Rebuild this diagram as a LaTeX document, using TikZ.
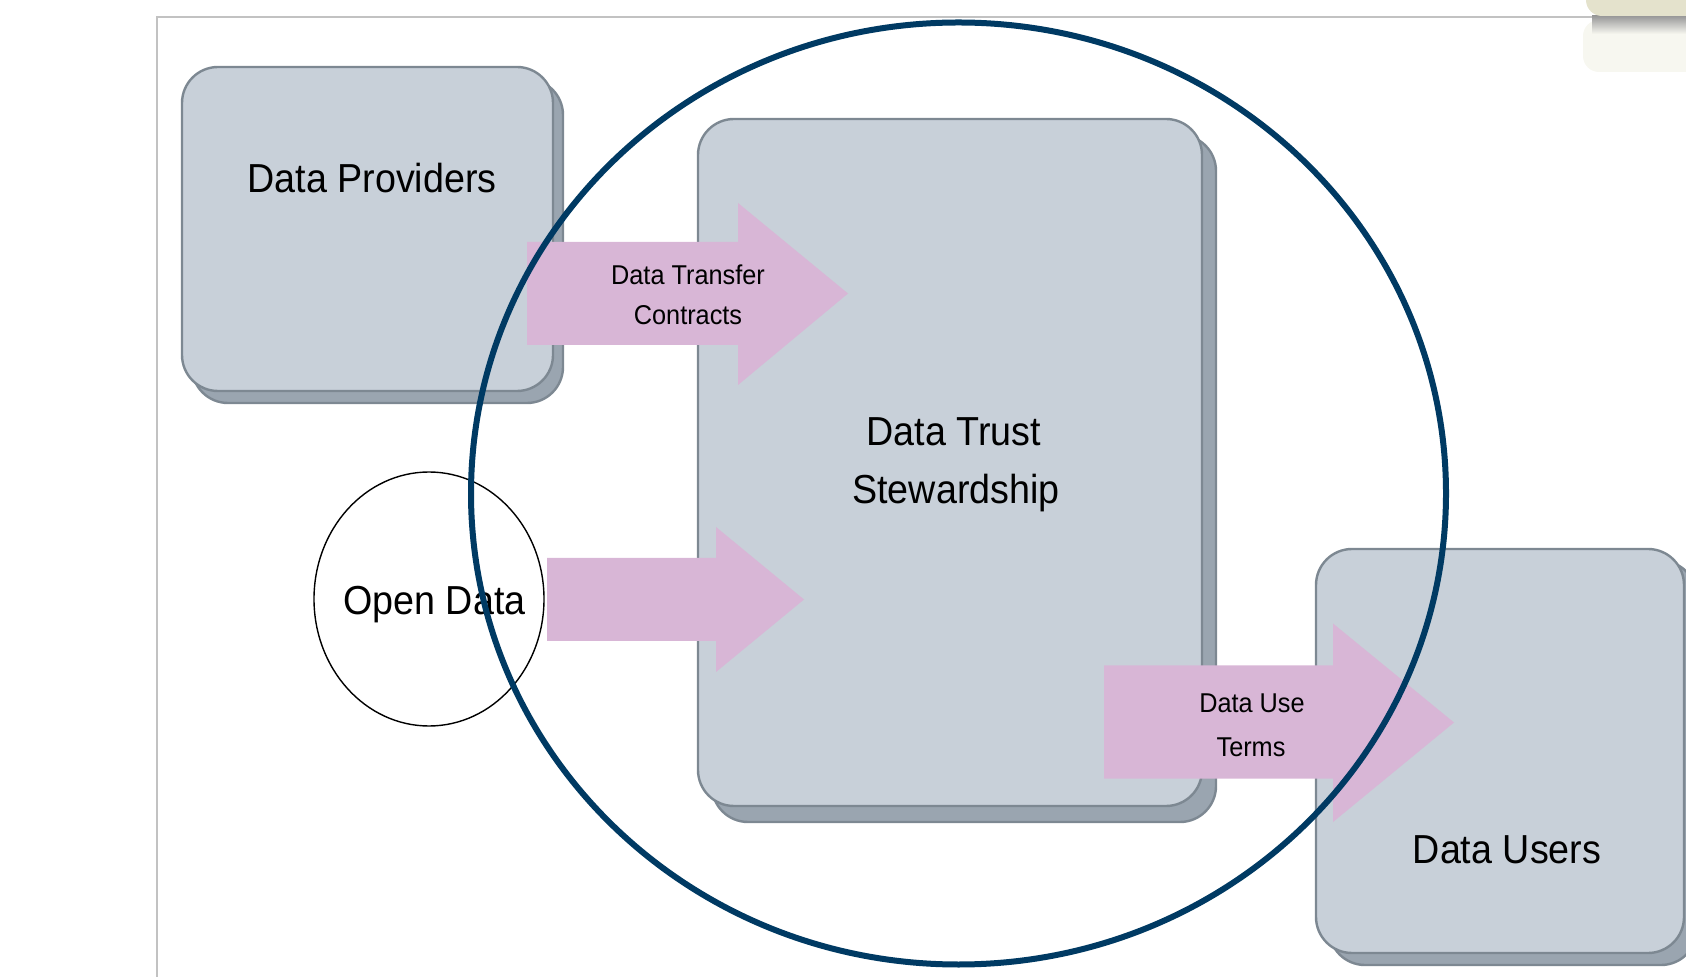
\documentclass[tikz,border=0pt]{standalone}
\usepackage{fontspec}
\setmainfont{Liberation Sans}[FakeStretch=0.93]
\usetikzlibrary{shapes.geometric,shadows}
\definecolor{boxfill}{HTML}{C8D0D9}
\definecolor{boxshadow}{HTML}{9AA5B0}
\definecolor{boxline}{HTML}{7D8892}
\definecolor{pinkarrow}{HTML}{D8B6D6}
\definecolor{navy}{HTML}{003A63}
\definecolor{framegray}{HTML}{C2C2C2}
\definecolor{tabbeige}{HTML}{E4E2CC}
\definecolor{tabpale}{HTML}{F7F7F0}
\tikzset{
  box/.style={draw=boxline, fill=boxfill, line width=1.2pt, rounded corners=18pt, inner sep=0pt},
  dshadow/.style 2 args={drop shadow={shadow xshift=#1, shadow yshift=#2, fill=boxshadow, draw=boxline, line width=1.2pt, opacity=1}},
  lbl/.style={font=\fontsize{20.25}{24}\selectfont, anchor=base, inner sep=0pt},
  small/.style={font=\fontsize{13.6}{16}\selectfont, anchor=base, inner sep=0pt},
  blockarrow/.style={fill=pinkarrow}
}
\begin{document}
\begin{tikzpicture}[x=0.5pt,y=-0.5pt]
\useasboundingbox (0,0) rectangle (1686,977);
% page frame and tab
\draw[framegray, line width=0.8pt] (157,977) -- (157,17) -- (1600,17);
\fill[tabpale, rounded corners=8pt] (1583,20) rectangle (1720,72);
\shade[top color=black!40, bottom color=tabpale] (1592,16) rectangle (1720,34);
\fill[tabbeige, rounded corners=8pt] (1586,-30) rectangle (1720,16);
% boxes
\node[box, dshadow={5pt}{-6pt}, minimum width=185.5pt, minimum height=162pt] (prov) at (367.5,229) {};
\node[box, dshadow={7pt}{-8pt}, minimum width=252pt, minimum height=343.5pt] (trust) at (950,462.5) {};
\node[box, dshadow={6.5pt}{-6pt}, minimum width=184pt, minimum height=202pt] (users) at (1500,751) {};
\node[ellipse, draw=black, line width=0.7pt, fill=white, minimum width=115pt, minimum height=127pt, inner sep=0pt] (open) at (429,599) {};
% block arrows
\fill[blockarrow] (527,242) -- (738,242) -- (738,203) -- (848,293.5) -- (738,385) -- (738,345) -- (527,345) -- cycle;
\fill[blockarrow] (547,558) -- (716,558) -- (716,527) -- (804,599.5) -- (716,672) -- (716,641) -- (547,641) -- cycle;
\fill[blockarrow] (1104,665.5) -- (1333,665.5) -- (1333,623.5) -- (1454,722.5) -- (1333,822) -- (1333,778.5) -- (1104,778.5) -- cycle;
% texts
\node[lbl] (tprov) at (372,192.7) {Data Providers};
\node[lbl] (ttrusta) at (954,445.7) {Data Trust};
\node[lbl] (ttrustb) at (956,503.3) {Stewardship};
\node[lbl] (tusers) at (1507,863.3) {Data Users};
\node[lbl] (topen) at (434.5,615) {Open Data};
\node[small] (tdta) at (688,285) {Data Transfer};
\node[small] (tdtb) at (688,325) {Contracts};
\node[small] (tdua) at (1252,712.3) {Data Use};
\node[small] (tdub) at (1251,756.7) {Terms};
% trust boundary
\node[ellipse, draw=navy, line width=3pt, minimum width=487.5pt, minimum height=471pt, inner sep=0pt] (boundary) at (958.5,493.5) {};
\end{tikzpicture}
\end{document}
